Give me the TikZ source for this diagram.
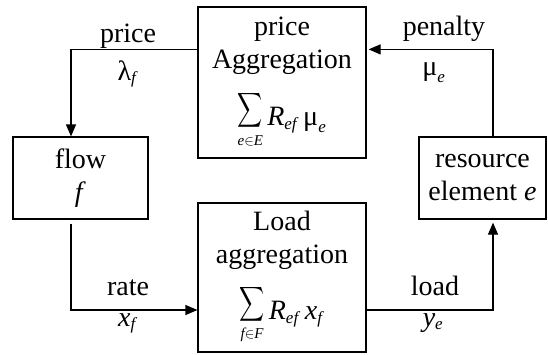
\documentclass[tikz,border=0pt]{standalone}
\usepackage{amsmath}
\usepackage{graphicx}
\usepackage{fontspec}
\setmainfont{Liberation Serif}
\usetikzlibrary{arrows.meta}
\newcommand{\subx}[1]{\mbox{\fontsize{17}{17}\selectfont\textit{#1}}}
\newcommand{\bigsumx}[1]{\mathop{\raisebox{9pt}{\scalebox{0.7}[0.97]{$\displaystyle\sum$}}}\limits_{\mbox{\fontsize{15}{15}\selectfont$#1$}}}
\begin{document}
\begin{tikzpicture}[x=1pt,y=-1pt,
  box/.style={draw, line width=1.2pt, align=center, inner sep=0pt, font=\fontsize{28}{33}\selectfont},
  lbl/.style={anchor=base, inner sep=0pt, font=\fontsize{28}{34}\selectfont},
  arr/.style={line width=1.2pt, -{Triangle[length=12pt,width=10pt]}}]
\useasboundingbox (0,0) rectangle (548,354);
\node[box, minimum width=168pt, minimum height=151pt] (pa) at (282,82.5)
  {price\\Aggregation\\[16pt]$\displaystyle\bigsumx{\mathit{e}{\in}\mathit{E}}\mathit{R}_{\subx{ef}}\,\mbox{μ}_{\subx{e}}$};
\node[box, minimum width=168pt, minimum height=149pt] (la) at (282,277.5)
  {Load\\aggregation\\[15pt]$\displaystyle\bigsumx{\mathit{f}{\in}\mathit{F}}\mathit{R}_{\subx{ef}}\,\mathit{x}_{\subx{f}}$};
\node[box, minimum width=135pt, minimum height=82pt] (flow) at (80.5,178)
  {flow\\\textit{f}};
\node[box, minimum width=127pt, minimum height=82pt] (res) at (482.5,178)
  {resource\\element \textit{e}};
\draw[arr] ([yshift=-43pt]pa.north west) -| ([xshift=-9.5pt]flow.north);
\draw[arr] ([xshift=10.5pt]res.north) |- ([xshift=2pt,yshift=-43pt]pa.north east);
\draw[arr] ([xshift=-9.5pt,yshift=-4pt]flow.south) |- ([yshift=-32.5pt]la.west);
\draw[arr] ([yshift=-32.5pt]la.east) -| ([xshift=10.5pt,yshift=-3pt]res.south);
\node[lbl] (lprice) at (128,42) {price};
\node[lbl] (llam) at (128,80) {$\mbox{λ}_{\subx{f}}$};
\node[lbl] (lpen) at (444,35) {penalty};
\node[lbl] (lmu) at (434,75) {$\mbox{μ}_{\subx{e}}$};
\node[lbl] (lrate) at (128,295) {rate};
\node[lbl] (lx) at (128,326) {$\mathit{x}_{\subx{f}}$};
\node[lbl] (lload) at (435,295) {load};
\node[lbl] (ly) at (433,326) {$\mathit{y}_{\subx{e}}$};
\end{tikzpicture}
\end{document}
